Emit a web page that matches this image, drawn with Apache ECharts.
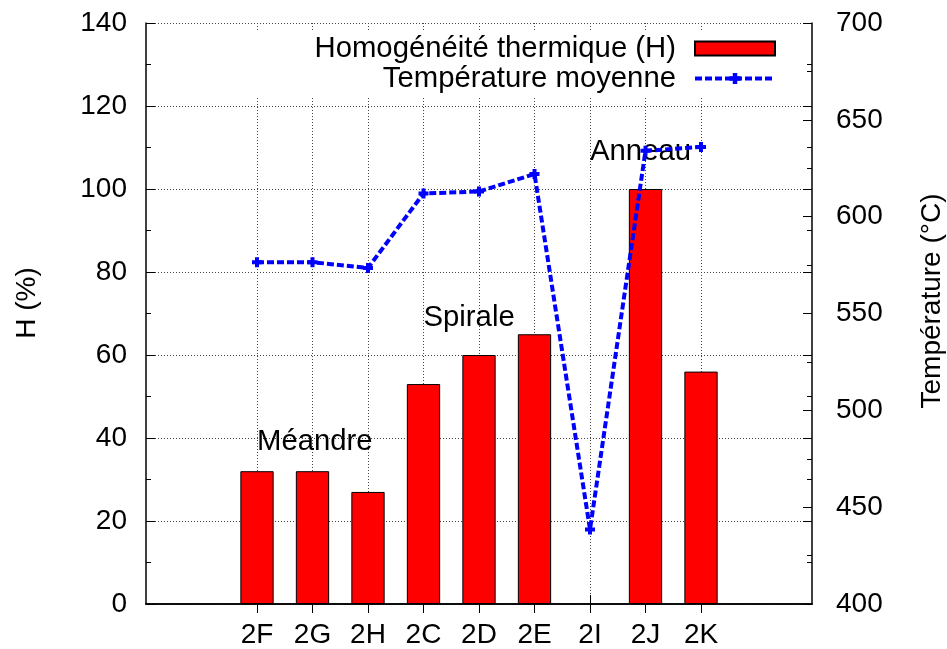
<!DOCTYPE html>
<html>
<head>
<meta charset="utf-8">
<script src="https://cdn.jsdelivr.net/npm/echarts@6/dist/echarts.min.js"></script>
<style>
  html, body { margin: 0; padding: 0; background: #fff; }
  #chart { width: 947px; height: 649px; }
</style>
</head>
<body>
<div id="chart"></div>
<script>
// Samples along the x axis
const categories = ['2F', '2G', '2H', '2C', '2D', '2E', '2I', '2J', '2K'];
// Thermal homogeneity H (%), left axis (2I has no bar)
const homogeneite = [32, 32, 27, 53, 60, 65, null, 100, 56];
// Mean temperature (°C), right axis
const temperature = [576.5, 576.5, 573.5, 612, 613, 622, 438.5, 634, 636];
// Group captions: text, first sample of the group, height on the H axis
const groupNames = ['Méandre', 'Spirale', 'Anneau'];
const groupFirst = ['2F', '2C', '2I'];
const groupLevel = [40, 70, 110];

// Two empty slots on each side of the samples
const PAD = 2;
const slots = [];
for (let i = 0; i < PAD; i++) slots.push('pad-l' + i);
categories.forEach(c => slots.push(c));
for (let i = 0; i < PAD; i++) slots.push('pad-r' + i);
const isSample = (idx) => idx >= PAD && idx < PAD + categories.length;
const padded = (arr) => slots.map((_, i) => isSample(i) && arr[i - PAD] != null ? arr[i - PAD] : '-');

const FONT = '"Liberation Sans", Arial, Helvetica, sans-serif';
const FS = 28;     // tick labels
const FS_TXT = 29.3; // legend, captions
const dotted = { color: '#444', width: 1, type: [1, 2] };
const tickStyle = { color: '#000', width: 1 };
const tempLine = { color: '#0000ff', width: 4, type: [7, 3] };

const chart = echarts.init(document.getElementById('chart'), null, { renderer: 'canvas' });

const plusPath = 'path://M3,0 h4 v3 h3 v4 h-3 v3 h-4 v-3 h-3 v-4 h3z';

chart.setOption({
  animation: false,
  backgroundColor: '#fff',
  textStyle: { fontFamily: FONT },
  grid: { left: 146, right: 135, top: 23, bottom: 42 },
  legend: {
    orient: 'vertical',
    align: 'right',
    right: 147,
    top: 32,
    itemWidth: 80,
    itemHeight: 14,
    itemGap: 1,
    backgroundColor: '#fff',
    padding: [2, 23, 3, 80],
    textStyle: { fontSize: FS_TXT, color: '#000', fontFamily: FONT, padding: [0, 14, 0, 0] },
    data: [
      { name: 'Homogénéité thermique (H)', icon: 'rect' },
      { name: 'Température moyenne', lineStyle: tempLine }
    ]
  },
  xAxis: [
    {
      type: 'category',
      data: slots,
      boundaryGap: false,
      position: 'bottom',
      axisLine: { show: true, lineStyle: { color: '#000', width: 1.5 } },
      axisTick: { show: true, inside: true, length: 9, interval: (i) => isSample(i), lineStyle: tickStyle },
      axisLabel: { show: true, interval: (i) => isSample(i), fontSize: FS, color: '#000', margin: 17, fontFamily: FONT },
      splitLine: { show: true, interval: (i) => isSample(i), lineStyle: dotted }
    },
    {
      type: 'category',
      data: slots,
      boundaryGap: false,
      position: 'top',
      axisLine: { show: true, lineStyle: { color: '#000', width: 1.5 } },
      axisTick: { show: true, inside: true, length: 9, interval: (i) => isSample(i), lineStyle: tickStyle },
      axisLabel: { show: false },
      splitLine: { show: false }
    }
  ],
  yAxis: [
    {
      type: 'value',
      position: 'left',
      min: 0, max: 140, interval: 20,
      axisLine: { show: true, lineStyle: { color: '#000', width: 1.5 } },
      axisTick: { show: true, inside: true, length: 9, lineStyle: tickStyle },
      minorTick: { show: true, splitNumber: 2, length: 5, lineStyle: tickStyle },
      axisLabel: { fontSize: FS, color: '#000', margin: 19, fontFamily: FONT },
      splitLine: { show: true, lineStyle: dotted }
    },
    {
      type: 'value',
      position: 'right',
      min: 400, max: 700, interval: 50,
      axisLine: { show: true, lineStyle: { color: '#000', width: 1.5 } },
      axisTick: { show: true, inside: true, length: 9, lineStyle: tickStyle },
      minorTick: { show: true, splitNumber: 2, length: 5, lineStyle: tickStyle },
      axisLabel: { fontSize: FS, color: '#000', margin: 24, fontFamily: FONT },
      splitLine: { show: false }
    },
    {
      // H ticks mirrored on the right border
      type: 'value',
      position: 'right',
      min: 0, max: 140, interval: 20,
      axisLine: { show: false },
      axisTick: { show: true, inside: true, length: 9, lineStyle: tickStyle },
      minorTick: { show: true, splitNumber: 2, length: 5, lineStyle: tickStyle },
      axisLabel: { show: false },
      splitLine: { show: false }
    }
  ],
  graphic: [
    {
      type: 'text', x: 27, y: 303, rotation: Math.PI / 2,
      style: { text: 'H (%)', fontSize: FS, fontFamily: FONT, fill: '#000', align: 'center', verticalAlign: 'middle' }
    },
    {
      type: 'text', x: 932, y: 301, rotation: Math.PI / 2,
      style: { text: 'Température (°C)', fontSize: FS, fontFamily: FONT, fill: '#000', align: 'center', verticalAlign: 'middle' }
    }
  ],
  series: [
    {
      name: 'Homogénéité thermique (H)',
      type: 'bar',
      xAxisIndex: 0,
      yAxisIndex: 0,
      barWidth: '60%',
      data: padded(homogeneite),
      itemStyle: { color: '#ff0000', borderColor: '#000', borderWidth: 1 }
    },
    {
      name: 'groupes',
      type: 'scatter',
      xAxisIndex: 0,
      yAxisIndex: 0,
      symbolSize: 0,
      silent: true,
      itemStyle: { opacity: 1 },
      data: groupNames.map((n, k) => [PAD + categories.indexOf(groupFirst[k]), groupLevel[k], n]),
      label: {
        show: true, position: 'right', distance: 0, offset: [0, 4],
        formatter: (p) => p.data[2],
        fontSize: FS_TXT, color: '#000', opacity: 1, fontFamily: FONT
      }
    },
    {
      name: 'Température moyenne',
      type: 'line',
      xAxisIndex: 0,
      yAxisIndex: 1,
      data: padded(temperature),
      symbol: plusPath,
      symbolSize: 10,
      showSymbol: true,
      itemStyle: { color: '#0000ff' },
      lineStyle: tempLine
    }
  ]
});
</script>
</body>
</html>
